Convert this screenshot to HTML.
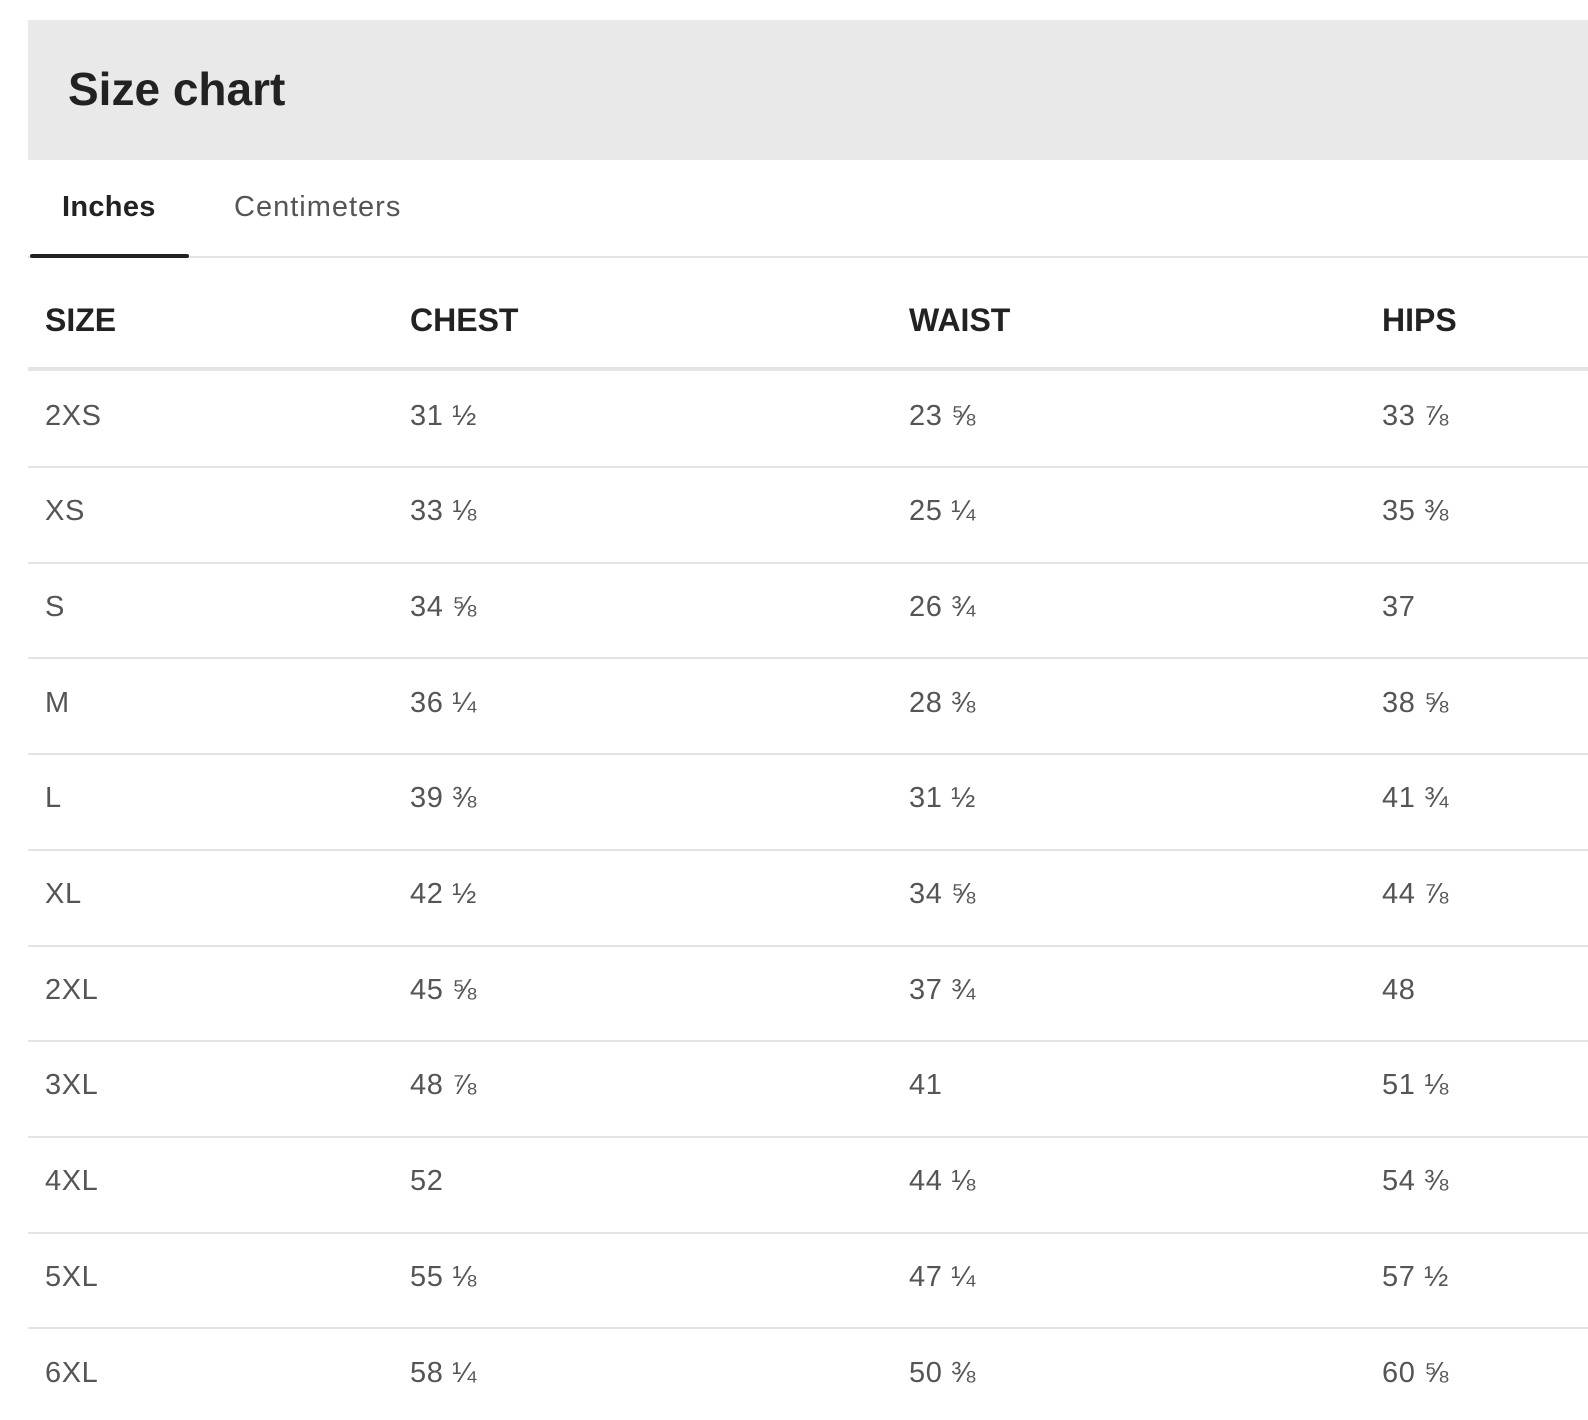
<!DOCTYPE html>
<html><head><meta charset="utf-8"><style>
body{margin:0;width:1588px;height:1420px;background:#fff;font-family:"Liberation Sans",sans-serif;position:relative;overflow:hidden}
.a{position:absolute;white-space:nowrap}
.hdr{left:28px;top:20px;width:1560px;height:140px;background:#e9e9e9}
.t{left:68px;top:59px;font-size:46px;font-weight:bold;color:#222;line-height:60px}
.tab{top:189px;font-size:29px;line-height:36px;letter-spacing:1px}
.line{left:28px;width:1560px;background:#e4e4e4}
.th{font-size:32px;font-weight:bold;color:#222;line-height:40px}
.td{font-size:29px;color:#555;line-height:40px;letter-spacing:0.6px}
</style></head><body>
<div class="a hdr"></div>
<div class="a t">Size chart</div>
<div class="a tab" style="left:62px;font-weight:bold;color:#222;letter-spacing:0.3px">Inches</div>
<div class="a tab" style="left:234px;color:#555">Centimeters</div>
<div class="a line" style="top:256px;height:2px"></div>
<div class="a" style="left:30px;top:254px;width:159px;height:4px;background:#222;border-radius:2px"></div>
<div class="a th" style="left:45px;top:300px">SIZE</div>
<div class="a th" style="left:410px;top:300px">CHEST</div>
<div class="a th" style="left:909px;top:300px">WAIST</div>
<div class="a th" style="left:1382px;top:300px">HIPS</div>
<div class="a line" style="top:367px;height:4px"></div>
<div id="rows"></div>
<script>
var d=[["2XS","31 ½","23 ⅝","33 ⅞"],["XS","33 ⅛","25 ¼","35 ⅜"],["S","34 ⅝","26 ¾","37"],["M","36 ¼","28 ⅜","38 ⅝"],["L","39 ⅜","31 ½","41 ¾"],["XL","42 ½","34 ⅝","44 ⅞"],["2XL","45 ⅝","37 ¾","48"],["3XL","48 ⅞","41","51 ⅛"],["4XL","52","44 ⅛","54 ⅜"],["5XL","55 ⅛","47 ¼","57 ½"],["6XL","58 ¼","50 ⅜","60 ⅝"]];
var xs=[45,410,909,1382],h="";
d.forEach(function(r,i){var c=415.5+i*95.7;r.forEach(function(v,j){h+='<div class="a td" style="left:'+xs[j]+'px;top:'+(c-20)+'px">'+v+'</div>';});
if(i<10)h+='<div class="a line" style="top:'+(c+50.5)+'px;height:2px"></div>';});
document.getElementById("rows").innerHTML=h;
</script>
</body></html>
